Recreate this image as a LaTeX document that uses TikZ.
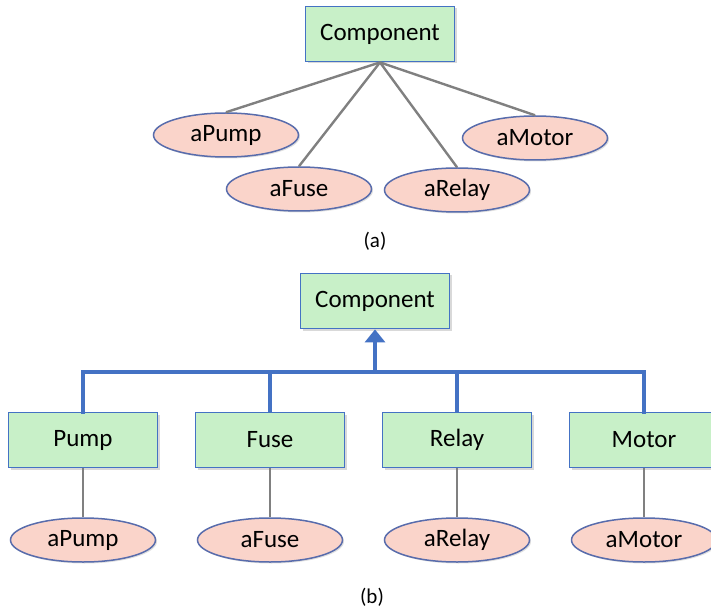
\documentclass[tikz,border=0pt]{standalone}
\usepackage{fontspec}
\setmainfont{Carlito}
\usetikzlibrary{arrows.meta,shapes.geometric,shadows}
\definecolor{boxfill}{RGB}{200,240,200}
\definecolor{boxline}{RGB}{68,114,196}
\definecolor{ellfill}{RGB}{250,212,202}
\definecolor{ellline}{RGB}{88,108,172}
\definecolor{linkgray}{RGB}{128,128,128}
\definecolor{busblue}{RGB}{68,114,196}
\tikzset{
  classbox/.style={draw=boxline, line width=1.8pt, fill=boxfill, rectangle,
    minimum width=149pt, minimum height=55pt, inner sep=0pt,
    font=\fontsize{25}{29}\selectfont,
    drop shadow={shadow xshift=2pt, shadow yshift=-2pt, opacity=0.3, fill=gray}},
  objell/.style={draw=ellline, line width=1.5pt, fill=ellfill, ellipse,
    minimum width=145pt, minimum height=44pt, inner sep=0pt,
    font=\fontsize{25}{29}\selectfont,
    drop shadow={shadow xshift=1.5pt, shadow yshift=-1.5pt, opacity=0.25, fill=gray}},
  link/.style={draw=linkgray, line width=2.4pt},
  bus/.style={draw=busblue, line width=4pt},
  caption/.style={font=\fontsize{21}{24}\selectfont, inner sep=0pt}
}
\begin{document}
\begin{tikzpicture}[x=1pt,y=-1pt]
\useasboundingbox (0,0) rectangle (711,609);
% (a)
\node[classbox] (compA) at (380,34) {Component};
\node[objell] (pumpA) at (226,135) {aPump};
\node[objell] (fuseA) at (299,189) {aFuse};
\node[objell] (relayA) at (457,190) {aRelay};
\node[objell] (motorA) at (535,138) {aMotor};
\draw[link] (compA.south) -- (pumpA.north);
\draw[link] (compA.south) -- (fuseA.north);
\draw[link] (compA.south) -- (relayA.north);
\draw[link] (compA.south) -- (motorA.north);
\node[caption] (capA) at (375,241) {(a)};
% (b)
\node[classbox] (compB) at (375,301) {Component};
\node[classbox] (pump) at (83,440) {Pump};
\node[classbox] (fuse) at (270,440) {Fuse};
\node[classbox] (relay) at (457,440) {Relay};
\node[classbox] (motor) at (644,440) {Motor};
\coordinate (busM) at (375,372);
\draw[bus, line cap=rect] (pump.north) |- (busM) -| (motor.north);
\draw[bus] (fuse.north) -- (fuse.north |- busM);
\draw[bus] (relay.north) -- (relay.north |- busM);
\draw[bus, -{Triangle[width=20pt,length=13pt]}] (busM) -- (compB.south);
\node[objell] (pumpO) at (83,540) {aPump};
\node[objell] (fuseO) at (270,540) {aFuse};
\node[objell] (relayO) at (457,540) {aRelay};
\node[objell] (motorO) at (644,540) {aMotor};
\draw[link] (pump.south) -- (pumpO.north);
\draw[link] (fuse.south) -- (fuseO.north);
\draw[link] (relay.south) -- (relayO.north);
\draw[link] (motor.south) -- (motorO.north);
\node[caption] (capB) at (372,597) {(b)};
\end{tikzpicture}
\end{document}
